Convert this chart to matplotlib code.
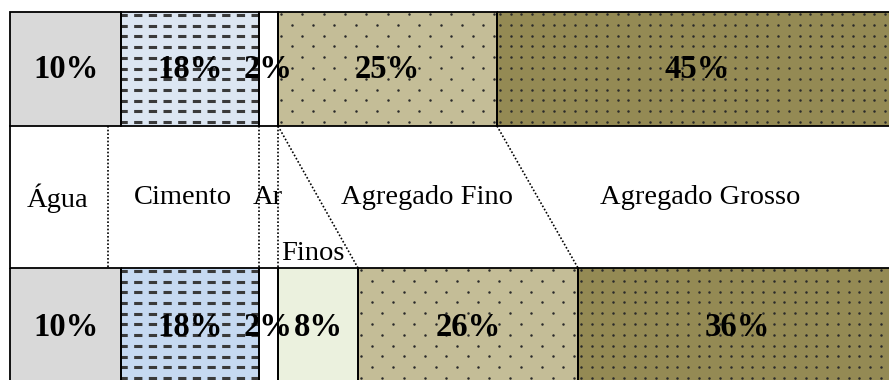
import numpy as np
import matplotlib.pyplot as plt

plt.rcParams['font.family'] = ['Liberation Serif', 'DejaVu Serif']

# top bar (proportions by volume) - widths as drawn in the figure
top_labels = ['10%', '18%', '2%', '25%', '45%']
top_widths = [111, 138, 19, 219, 400]
top_colors = ['#d9d9d9', '#dce6f2', '#ffffff', '#c4bd97', '#948a54']
top_texture = [None, 'dash', None, 'dot', 'dense']

# bottom bar
bottom_labels = ['10%', '18%', '2%', '8%', '26%', '36%']
bottom_widths = [111, 138, 19, 80, 220, 319]
bottom_colors = ['#d9d9d9', '#c6d9f1', '#ffffff', '#ebf1de', '#c4bd97', '#948a54']
bottom_texture = [None, 'dash', None, None, 'dot', 'dense']

# names in the middle band
names = ['Água', 'Cimento', 'Ar', 'Agregado Fino', 'Agregado Grosso']
name_x = [58, 183, 268, 427, 700]
fines_label = 'Finos'

X0 = 10
TOP_Y, TOP_H = 69, 114
BOT_Y, BOT_H = 334, 132
MID_TOP, MID_BOT = 126, 268


def add_texture(ax, patch, kind):
    x0, y0 = patch.get_x(), patch.get_y()
    x1, y1 = x0 + patch.get_width(), y0 + patch.get_height()
    if kind == 'dash':
        ys = np.arange(y0 + 3, y1, 10.7)
        lines = ax.hlines(ys, x0 - 2, x1, colors='#3a3a3a', linewidth=2.2,
                          linestyles=(0, (2.7, 2.1)), zorder=2)
        lines.set_clip_path(patch)
    elif kind in ('dot', 'dense'):
        ys = np.arange(y0 + 2, y1, 10.8)
        step = 21.3 if kind == 'dot' else 10.7
        px, py = [], []
        for i, y in enumerate(ys):
            shift = step / 2 if (kind == 'dot' and i % 2) else 0
            xs = np.arange(x0 + 3 + shift, x1, step)
            px.extend(xs)
            py.extend([y] * len(xs))
        pts = ax.scatter(px, py, s=3.2, color='#2a2a2a', linewidths=0, zorder=2)
        pts.set_clip_path(patch)


def draw_bar(ax, yc, h, widths, colors, textures, labels, label_y):
    lefts = X0 + np.concatenate([[0], np.cumsum(widths)[:-1]])
    bars = ax.barh(yc, widths, left=lefts, height=h, color=colors,
                   edgecolor='none', zorder=1)
    for patch, kind in zip(bars.patches, textures):
        if kind:
            add_texture(ax, patch, kind)
    ax.barh(yc, widths, left=lefts, height=h, fill=False,
            edgecolor='black', linewidth=1.3, zorder=3)
    for left, w, lab in zip(lefts, widths, labels):
        ax.text(left + w / 2, label_y, lab, ha='center', va='center',
                fontsize=23.5, fontweight='bold', zorder=4)
    return lefts


fig = plt.figure(figsize=(8.89, 3.80), dpi=100)
ax = fig.add_axes([0, 0, 1, 1])
ax.set_xlim(0, 889)
ax.set_ylim(380, 0)
ax.axis('off')

top_lefts = draw_bar(ax, TOP_Y, TOP_H, top_widths, top_colors, top_texture,
                     top_labels, 70)
bot_lefts = draw_bar(ax, BOT_Y, BOT_H, bottom_widths, bottom_colors,
                     bottom_texture, bottom_labels, 327)

# middle band frame and guide lines
ax.plot([X0, X0], [MID_TOP, MID_BOT], color='black', linewidth=1.3, zorder=3)
dot = dict(color='black', linewidth=1.2, linestyle=(0, (1, 1.2)), zorder=3)
for x in [108, top_lefts[2], top_lefts[3]]:
    ax.plot([x, x], [MID_TOP, MID_BOT], **dot)
ax.plot([top_lefts[3], bot_lefts[4]], [MID_TOP, MID_BOT], **dot)
ax.plot([top_lefts[4], bot_lefts[5]], [MID_TOP, MID_BOT], **dot)

for x, name in zip(name_x, names):
    ax.text(x, 198, name, ha='center', va='center', fontsize=20.5, zorder=4)
ax.text(313, 253, fines_label, ha='center', va='center', fontsize=20.5, zorder=4)

fig.savefig('out.png', dpi=100)
